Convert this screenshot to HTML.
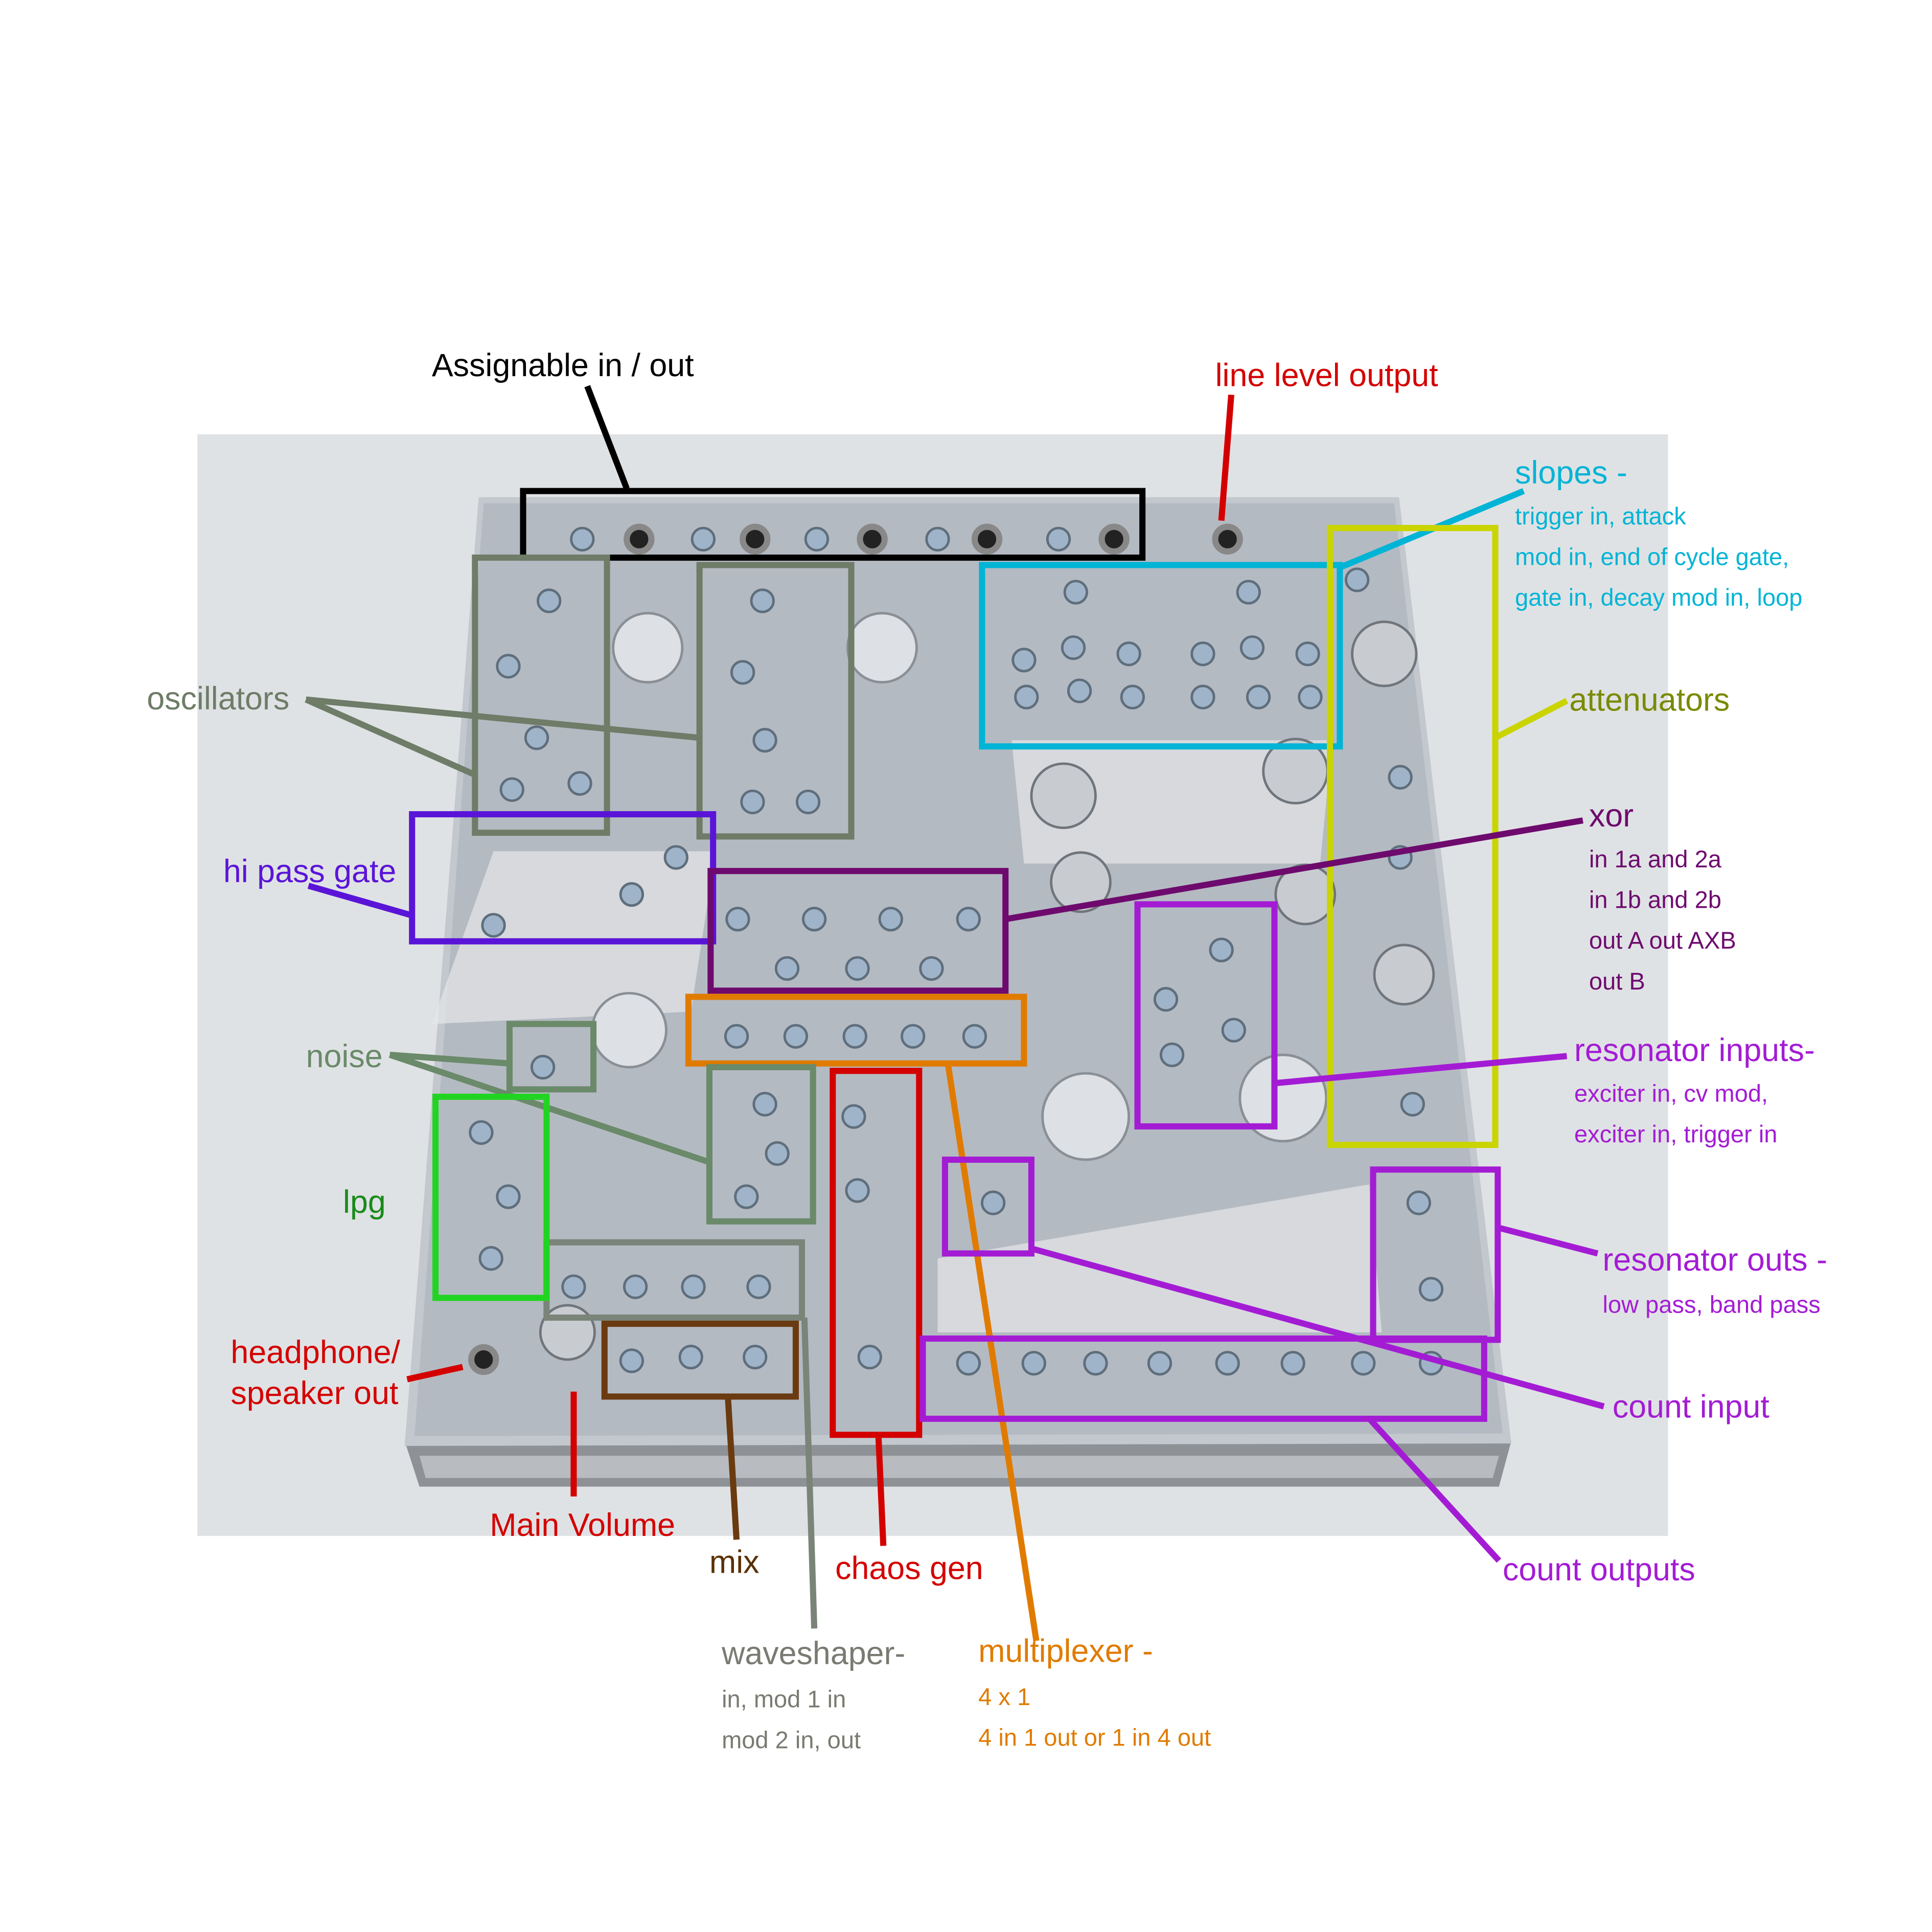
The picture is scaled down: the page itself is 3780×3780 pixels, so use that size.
<!DOCTYPE html>
<html><head><meta charset="utf-8"><style>
html,body{margin:0;padding:0;background:#fff}
svg{display:block}
text{font-family:"Liberation Sans",sans-serif}
</style></head><body>
<svg width="3780" height="3780" viewBox="0 0 1566 1566" xmlns="http://www.w3.org/2000/svg">
<rect width="1566" height="1566" fill="#fff"/>
<rect x="160" y="352" width="1192" height="893" fill="#dfe2e4"/>
<polygon points="328,1168 1225,1168 1215,1205 340,1205" fill="#8e9296"/>
<polygon points="340,1180 1215,1180 1210,1198 345,1198" fill="#b8bcc0"/>
<polygon points="388,403 1134,403 1225,1170 328,1172" fill="#c3c8ce"/>
<polygon points="392,408 1130,408 1218,1162 336,1164" fill="#b4bac2"/>
<g fill="#e6e7e8" opacity="0.7">
<polygon points="400,690 580,690 560,820 350,830"/>
<polygon points="760,1020 1110,960 1120,1080 760,1080"/>
<polygon points="820,600 1080,600 1070,700 830,700"/>
</g>
<g fill="#dde0e4" stroke="#8a8f96" stroke-width="2">
<circle cx="525" cy="525" r="28"/><circle cx="715" cy="525" r="28"/>
<circle cx="510" cy="835" r="30"/><circle cx="880" cy="905" r="35"/><circle cx="1040" cy="890" r="35"/>
</g>
<g fill="#c8ccd0" stroke="#70757c" stroke-width="2">
<circle cx="1122" cy="530" r="26"/><circle cx="862" cy="645" r="26"/><circle cx="1050" cy="625" r="26"/>
<circle cx="876" cy="715" r="24"/><circle cx="1058" cy="725" r="24"/><circle cx="1138" cy="790" r="24"/>
<circle cx="460" cy="1080" r="22"/>
</g>
<g fill="#222" stroke="#888" stroke-width="5">
<circle cx="518" cy="437" r="10"/><circle cx="612" cy="437" r="10"/><circle cx="707" cy="437" r="10"/>
<circle cx="800" cy="437" r="10"/><circle cx="903" cy="437" r="10"/><circle cx="995" cy="437" r="10"/>
<circle cx="392" cy="1102" r="10"/>
</g>
<g fill="#9fb4c8" stroke="#5f6e7c" stroke-width="2">
<circle cx="472" cy="437" r="9"/><circle cx="570" cy="437" r="9"/><circle cx="662" cy="437" r="9"/><circle cx="760" cy="437" r="9"/><circle cx="858" cy="437" r="9"/>
<circle cx="445" cy="487" r="9"/><circle cx="618" cy="487" r="9"/>
<circle cx="412" cy="540" r="9"/><circle cx="602" cy="545" r="9"/><circle cx="435" cy="598" r="9"/><circle cx="620" cy="600" r="9"/>
<circle cx="415" cy="640" r="9"/><circle cx="470" cy="635" r="9"/><circle cx="610" cy="650" r="9"/><circle cx="655" cy="650" r="9"/>
<circle cx="872" cy="480" r="9"/><circle cx="1012" cy="480" r="9"/>
<circle cx="830" cy="535" r="9"/><circle cx="870" cy="525" r="9"/><circle cx="915" cy="530" r="9"/><circle cx="975" cy="530" r="9"/><circle cx="1015" cy="525" r="9"/><circle cx="1060" cy="530" r="9"/>
<circle cx="832" cy="565" r="9"/><circle cx="875" cy="560" r="9"/><circle cx="918" cy="565" r="9"/><circle cx="975" cy="565" r="9"/><circle cx="1020" cy="565" r="9"/><circle cx="1062" cy="565" r="9"/>
<circle cx="548" cy="695" r="9"/><circle cx="512" cy="725" r="9"/><circle cx="400" cy="750" r="9"/>
<circle cx="598" cy="745" r="9"/><circle cx="660" cy="745" r="9"/><circle cx="722" cy="745" r="9"/><circle cx="785" cy="745" r="9"/>
<circle cx="638" cy="785" r="9"/><circle cx="695" cy="785" r="9"/><circle cx="755" cy="785" r="9"/>
<circle cx="597" cy="840" r="9"/><circle cx="645" cy="840" r="9"/><circle cx="693" cy="840" r="9"/><circle cx="740" cy="840" r="9"/><circle cx="790" cy="840" r="9"/>
<circle cx="440" cy="865" r="9"/><circle cx="620" cy="895" r="9"/><circle cx="630" cy="935" r="9"/><circle cx="605" cy="970" r="9"/>
<circle cx="692" cy="905" r="9"/><circle cx="695" cy="965" r="9"/><circle cx="705" cy="1100" r="9"/><circle cx="805" cy="975" r="9"/>
<circle cx="990" cy="770" r="9"/><circle cx="945" cy="810" r="9"/><circle cx="1000" cy="835" r="9"/><circle cx="950" cy="855" r="9"/>
<circle cx="390" cy="918" r="9"/><circle cx="412" cy="970" r="9"/><circle cx="398" cy="1020" r="9"/>
<circle cx="465" cy="1043" r="9"/><circle cx="515" cy="1043" r="9"/><circle cx="562" cy="1043" r="9"/><circle cx="615" cy="1043" r="9"/>
<circle cx="512" cy="1103" r="9"/><circle cx="560" cy="1100" r="9"/><circle cx="612" cy="1100" r="9"/>
<circle cx="785" cy="1105" r="9"/><circle cx="838" cy="1105" r="9"/><circle cx="888" cy="1105" r="9"/><circle cx="940" cy="1105" r="9"/><circle cx="995" cy="1105" r="9"/><circle cx="1048" cy="1105" r="9"/><circle cx="1105" cy="1105" r="9"/><circle cx="1160" cy="1105" r="9"/>
<circle cx="1150" cy="975" r="9"/><circle cx="1160" cy="1045" r="9"/><circle cx="1145" cy="895" r="9"/>
<circle cx="1100" cy="470" r="9"/><circle cx="1135" cy="630" r="9"/><circle cx="1135" cy="695" r="9"/>
</g>
<g fill="none" stroke-width="5">
<rect x="424" y="398" width="502" height="54" stroke="#000"/>
<line x1="508" y1="396" x2="476" y2="313" stroke="#000"/>
<line x1="998" y1="320" x2="990" y2="422" stroke="#d40000"/>
<rect x="796" y="458" width="290" height="147" stroke="#00b4d6"/>
<line x1="1086" y1="460" x2="1235" y2="398" stroke="#00b4d6"/>
<rect x="1078" y="428" width="134" height="500" stroke="#c9d400"/>
<line x1="1212" y1="598" x2="1270" y2="568" stroke="#c9d400"/>
<rect x="385" y="452" width="107" height="223" stroke="#6e7c68"/>
<rect x="567" y="458" width="123" height="220" stroke="#6e7c68"/>
<line x1="248" y1="567" x2="385" y2="628" stroke="#6e7c68"/>
<line x1="248" y1="567" x2="567" y2="598" stroke="#6e7c68"/>
<rect x="334" y="660" width="244" height="103" stroke="#5a14d8"/>
<line x1="250" y1="718" x2="334" y2="742" stroke="#5a14d8"/>
<rect x="576" y="706" width="239" height="97" stroke="#6e0a6e"/>
<line x1="815" y1="745" x2="1283" y2="665" stroke="#6e0a6e"/>
<rect x="558" y="808" width="272" height="54" stroke="#e07b00"/>
<line x1="768" y1="860" x2="840" y2="1330" stroke="#e07b00"/>
<rect x="675" y="868" width="70" height="295" stroke="#d40000"/>
<line x1="712" y1="1163" x2="716" y2="1253" stroke="#d40000"/>
<rect x="922" y="733" width="111" height="180" stroke="#a31cd4"/>
<line x1="1033" y1="878" x2="1270" y2="856" stroke="#a31cd4"/>
<rect x="1113" y="948" width="101" height="138" stroke="#a31cd4"/>
<line x1="1214" y1="995" x2="1295" y2="1016" stroke="#a31cd4"/>
<rect x="766" y="940" width="70" height="76" stroke="#a31cd4"/>
<line x1="836" y1="1012" x2="1300" y2="1140" stroke="#a31cd4"/>
<rect x="748" y="1085" width="455" height="65" stroke="#a31cd4"/>
<line x1="1110" y1="1150" x2="1215" y2="1265" stroke="#a31cd4"/>
<rect x="413" y="830" width="68" height="53" stroke="#6a8a6a"/>
<line x1="316" y1="855" x2="413" y2="862" stroke="#6a8a6a"/>
<line x1="316" y1="855" x2="575" y2="942" stroke="#6a8a6a"/>
<rect x="575" y="865" width="84" height="125" stroke="#6a8a6a"/>
<rect x="443" y="1007" width="207" height="61" stroke="#7a8478"/>
<line x1="652" y1="1068" x2="660" y2="1320" stroke="#7a8478"/>
<rect x="353" y="889" width="90" height="163" stroke="#22d422"/>
<rect x="490" y="1073" width="155" height="59" stroke="#6a3a10"/>
<line x1="590" y1="1132" x2="597" y2="1248" stroke="#6a3a10"/>
<line x1="330" y1="1118" x2="375" y2="1108" stroke="#d40000"/>
<line x1="465" y1="1128" x2="465" y2="1213" stroke="#d40000"/>
</g>
<g font-size="26">
<text x="350" y="305" fill="#000">Assignable in / out</text>
<text x="985" y="313" fill="#d40000">line level output</text>
<text x="1228" y="392" fill="#00b4d6">slopes -</text>
<text x="1272" y="576" fill="#7a8a00">attenuators</text>
<text x="119" y="575" fill="#6e7c68">oscillators</text>
<text x="181" y="715" fill="#5a14d8">hi pass gate</text>
<text x="1288" y="670" fill="#6e0a6e">xor</text>
<text x="1276" y="860" fill="#a31cd4">resonator inputs-</text>
<text x="248" y="865" fill="#6a8a6a">noise</text>
<text x="278" y="983" fill="#1a8a1a">lpg</text>
<text x="1299" y="1030" fill="#a31cd4">resonator outs -</text>
<text x="187" y="1105" fill="#d40000">headphone/</text>
<text x="187" y="1138" fill="#d40000">speaker out</text>
<text x="1307" y="1149" fill="#a31cd4">count input</text>
<text x="397" y="1245" fill="#d40000">Main Volume</text>
<text x="575" y="1275" fill="#5a3000">mix</text>
<text x="677" y="1280" fill="#d40000">chaos gen</text>
<text x="1218" y="1281" fill="#a31cd4">count outputs</text>
<text x="585" y="1349" fill="#7a7a72">waveshaper-</text>
<text x="793" y="1347" fill="#e07b00">multiplexer -</text>
</g>
<g font-size="19.5">
<text x="1228" y="425" fill="#00b4d6">trigger in, attack</text>
<text x="1228" y="458" fill="#00b4d6">mod in, end of cycle gate,</text>
<text x="1228" y="491" fill="#00b4d6">gate in, decay mod in, loop</text>
<text x="1288" y="703" fill="#6e0a6e">in 1a and 2a</text>
<text x="1288" y="736" fill="#6e0a6e">in 1b and 2b</text>
<text x="1288" y="769" fill="#6e0a6e">out A out AXB</text>
<text x="1288" y="802" fill="#6e0a6e">out B</text>
<text x="1276" y="893" fill="#a31cd4">exciter in, cv mod,</text>
<text x="1276" y="926" fill="#a31cd4">exciter in, trigger in</text>
<text x="1299" y="1064" fill="#a31cd4">low pass, band pass</text>
<text x="585" y="1384" fill="#7a7a72">in, mod 1 in</text>
<text x="585" y="1417" fill="#7a7a72">mod 2 in, out</text>
<text x="793" y="1382" fill="#e07b00">4 x 1</text>
<text x="793" y="1415" fill="#e07b00">4 in 1 out or 1 in 4 out</text>
</g>
</svg>
</body></html>
